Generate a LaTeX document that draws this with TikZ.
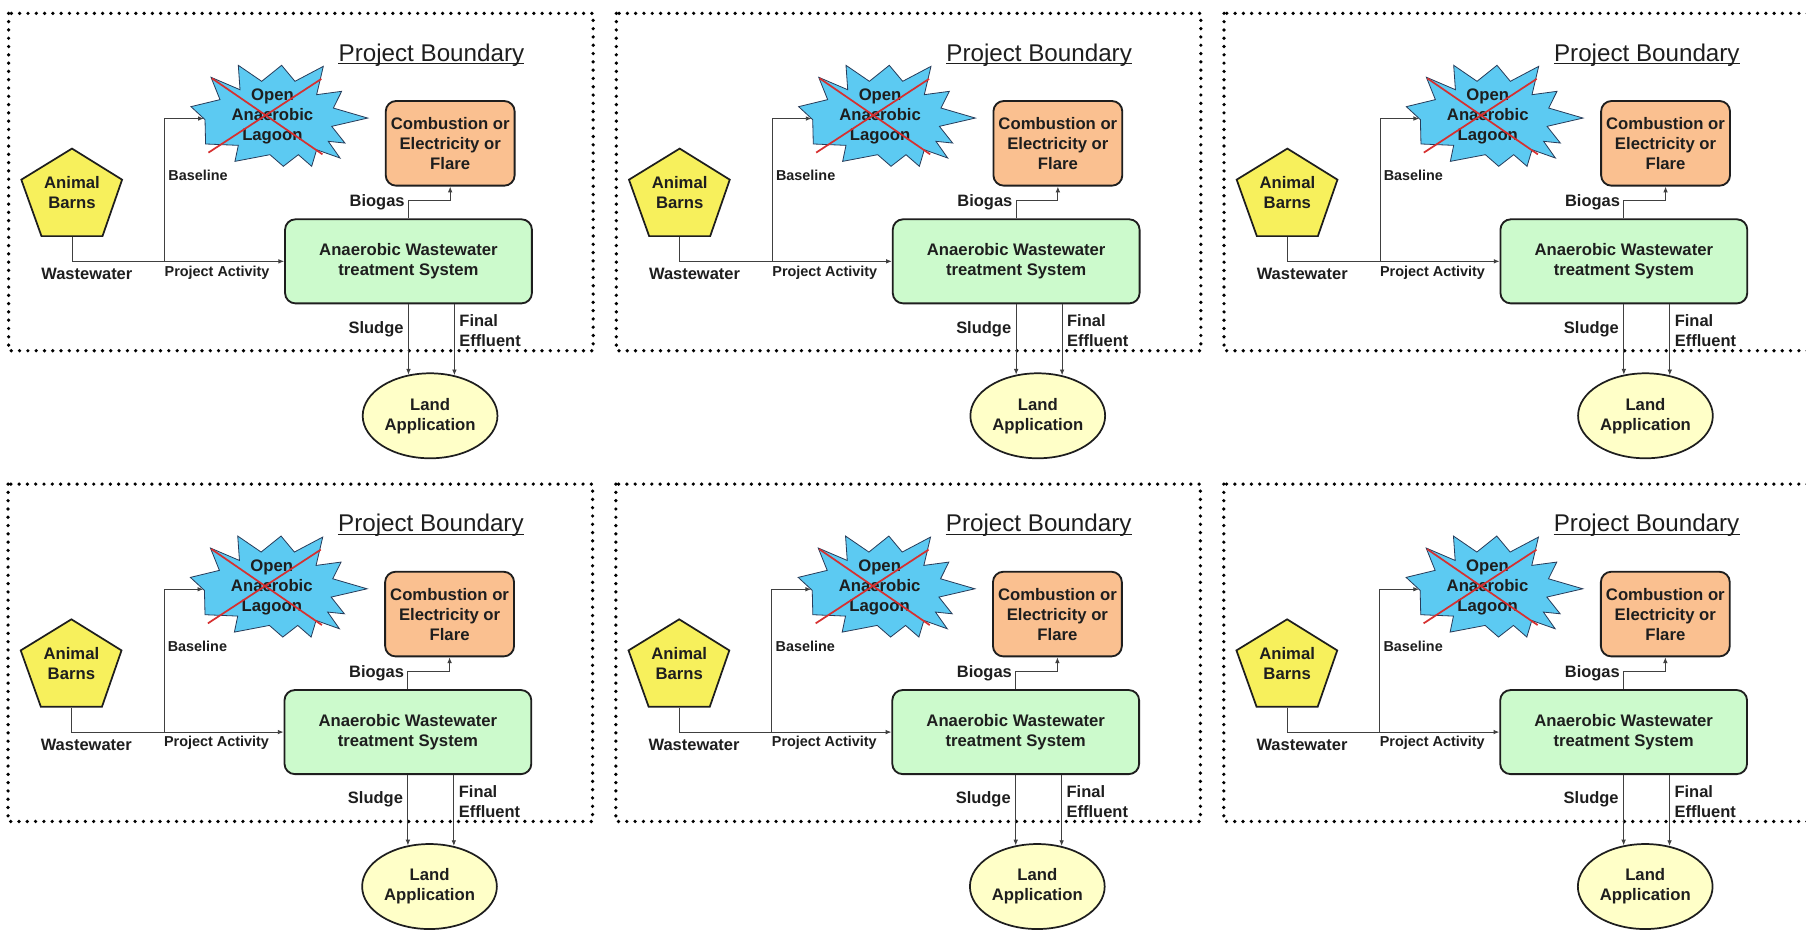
\documentclass[tikz,border=0pt]{standalone}
\usepackage{fontspec}
\setmainfont{Liberation Sans}
\usetikzlibrary{arrows.meta,shapes.geometric,calc}

\definecolor{lagoonblue}{RGB}{92,202,242}
\definecolor{lagoonedge}{RGB}{40,60,90}
\definecolor{barnyellow}{RGB}{247,240,92}
\definecolor{burnorange}{RGB}{250,192,144}
\definecolor{tankgreen}{RGB}{204,250,204}
\definecolor{landcream}{RGB}{255,255,200}
\definecolor{crossred}{RGB}{214,48,48}
\definecolor{inkdark}{RGB}{30,30,30}

\tikzset{
  boxtext/.style={font=\bfseries\fontsize{14.5}{17.4}\selectfont, align=center, text=inkdark},
  flowbox/.style={boxtext, draw=inkdark, line width=1.6pt, rounded corners=9pt, inner sep=0pt},
  flowlabel/.style={font=\bfseries\fontsize{14.3}{17.4}\selectfont, text=inkdark, inner sep=0pt},
  smalllabel/.style={font=\bfseries\fontsize{12.5}{15}\selectfont, text=inkdark, inner sep=0pt},
  flow/.style={draw=inkdark!85, line width=0.8pt, -{Latex[length=5pt,width=4pt]}},
  boundary/.style={draw=black, line width=3.2pt, line cap=round, dash pattern=on 0pt off 7.2pt},
}

% one copy of the project boundary diagram; #1 tags the node names
\newcommand\drawpanel[1]{%
  \draw[boundary] (7.5,11.6) rectangle (515,304.5);
  \node[anchor=base, inner sep=0pt, font=\fontsize{21}{25}\selectfont, text=inkdark] (pb#1) at (374.6,53) {Project Boundary};
  \draw[inkdark, line width=1.3pt] ([yshift=-2.2pt]pb#1.base west) -- ([yshift=-2.2pt]pb#1.base east);
  % open lagoon, crossed out
  \draw[fill=lagoonblue, draw=lagoonedge, line width=0.7pt]
    (183.2,67.1) -- (208.4,77.9) -- (206.9,56.7) -- (227.2,70.6) -- (244.5,56.7)
    -- (256.1,70.6) -- (280.7,57.6) -- (274.9,82.2) -- (296.6,79.3) -- (289.4,93.8)
    -- (319.2,102.5) -- (288.0,109.7) -- (299.5,124.2) -- (285.0,122.7) -- (295.2,137.2)
    -- (274.9,130.0) -- (270.6,144.4) -- (259.0,134.3) -- (246.0,144.4) -- (234.4,134.3)
    -- (204.0,140.1) -- (206.9,126.2) -- (178.5,125.0) -- (178,103.9) -- (165.8,92.6)
    -- (191.0,86.5) -- cycle;
  \node[boxtext, inner sep=0pt] (lagoon#1) at (236.5,101) {Open\\Anaerobic\\Lagoon};
  \draw[crossred, line width=1.5pt] (184,68) -- (280,134) (279,68.5) -- (181,132.5);
  \coordinate (lagoonin#1) at (177,102.9);
  % animal barns
  \draw[fill=barnyellow, draw=inkdark, line width=1.5pt]
    (62.5,129) -- (106,156) -- (89,205) -- (36,205) -- (18.5,156) -- cycle;
  \node[boxtext, inner sep=0pt] (barns#1) at (62.5,167) {Animal\\Barns};
  \coordinate (barnsout#1) at (62.5,205.8);
  % treatment, energy use and land application
  \node[flowbox, fill=tankgreen, minimum width=214.3pt, minimum height=73pt] (ws#1) at (354.65,226.9) {Anaerobic Wastewater\\treatment System};
  \node[flowbox, fill=burnorange, minimum width=111.9pt, minimum height=73.5pt] (burn#1) at (390.85,124.45) {Combustion or\\Electricity or\\Flare};
  \node[ellipse, draw=inkdark, line width=1.5pt, fill=landcream, minimum width=117pt, minimum height=73.8pt, boxtext, inner sep=0pt] (land#1) at (373.4,361) {Land\\Application};
  % connectors
  \coordinate (split#1) at (142.9,226.9);
  \draw[flow] (barnsout#1) |- (ws#1.west);
  \draw[flow] (split#1) |- (lagoonin#1);
  \draw[flow] (ws#1.north) -- ++(0,-15.3) -| (burn#1.south);
  \draw[flow] (ws#1.south) -- (ws#1.south |- land#1.118);
  \draw[flow] (ws#1.south -| land#1.59) -- (land#1.59);
  % flow labels
  \node[flowlabel] (lww#1) at (75.4,237.8) {Wastewater};
  \node[smalllabel] (lpa#1) at (188.5,236.4) {Project Activity};
  \node[smalllabel, anchor=west] (lbase#1) at (146,152.4) {Baseline};
  \node[flowlabel, anchor=east] (lbio#1) at (351.5,175.5) {Biogas};
  \node[flowlabel, anchor=east] (lsl#1) at (350.5,285.5) {Sludge};
  \node[flowlabel, anchor=west, align=left] (lfe#1) at (398.7,286.9) {Final\\Effluent};
}

\begin{document}
\begin{tikzpicture}[x=1pt, y=-1pt]
  \useasboundingbox (0,0) rectangle (1568,808);
  \fill[white] (0,0) rectangle (1568,808);
  \begin{scope}[shift={(0,0)}]\drawpanel{a}\end{scope}
  \begin{scope}[shift={(527.6,0)}]\drawpanel{b}\end{scope}
  \begin{scope}[shift={(1055.2,0)}]\drawpanel{c}\end{scope}
  \begin{scope}[shift={(-0.5,408.7)}]\drawpanel{d}\end{scope}
  \begin{scope}[shift={(527.2,408.7)}]\drawpanel{e}\end{scope}
  \begin{scope}[shift={(1055,408.7)}]\drawpanel{f}\end{scope}
\end{tikzpicture}
\end{document}
